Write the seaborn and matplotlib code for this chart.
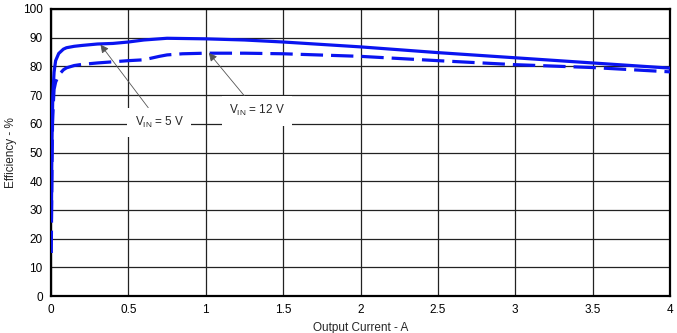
import matplotlib
matplotlib.use("Agg")
import matplotlib.pyplot as plt
import seaborn as sns
import pandas as pd

# Data
i_5v = [0.003, 0.005, 0.008, 0.012, 0.02, 0.03, 0.05, 0.08, 0.1, 0.15, 0.2, 0.3, 0.4, 0.5, 0.6, 0.75, 1.0, 1.25, 1.5, 2.0, 2.5, 3.0, 3.5, 4.0]
eff_5v = [27, 45, 60, 70, 78, 82, 84.5, 86, 86.5, 87, 87.3, 87.8, 88.0, 88.5, 89.2, 89.8, 89.6, 89.2, 88.5, 86.8, 84.8, 83.0, 81.2, 79.4]
i_12v = [0.002, 0.004, 0.007, 0.01, 0.015, 0.02, 0.03, 0.05, 0.08, 0.1, 0.15, 0.2, 0.3, 0.4, 0.5, 0.6, 0.7, 0.75, 0.85, 1.0, 1.25, 1.5, 2.0, 2.5, 3.0, 3.5, 4.0]
eff_12v = [15, 30, 48, 60, 67, 72, 74.5, 77, 78.8, 79.5, 80.3, 80.7, 81.2, 81.6, 82.0, 82.3, 83.5, 84.0, 84.4, 84.6, 84.6, 84.4, 83.5, 82.0, 80.6, 79.6, 78.1]
labels = ["VIN = 5 V", "VIN = 12 V"]
x_ticks = [0, 0.5, 1, 1.5, 2, 2.5, 3, 3.5, 4]
x_tick_labels = ["0", "0.5", "1", "1.5", "2", "2.5", "3", "3.5", "4"]
y_ticks = list(range(0, 101, 10))

df = pd.concat([
    pd.DataFrame({"I": i_5v, "E": eff_5v, "s": labels[0]}),
    pd.DataFrame({"I": i_12v, "E": eff_12v, "s": labels[1]}),
])

sns.set_style("white")
plt.rcParams["font.family"] = ["Liberation Sans", "DejaVu Sans"]

fig = plt.figure(figsize=(6.77, 3.33), dpi=100)
ax = fig.add_axes([0.0753, 0.111, 0.9144, 0.862])

sns.lineplot(data=df, x="I", y="E", hue="s", style="s",
             palette=["#0a14f0", "#0a14f0"],
             dashes=[(None, None), (7, 2.5)], linewidth=2.3,
             sort=False, legend=False, ax=ax, zorder=3)
ax.lines[0].set_linestyle("-")

ax.set_xlim(0, 4)
ax.set_ylim(0, 100)
ax.set_xticks(x_ticks)
ax.set_xticklabels(x_tick_labels)
ax.set_yticks(y_ticks)
ax.grid(True, color="#222222", linewidth=0.9)
ax.set_axisbelow(True)
for sp in ax.spines.values():
    sp.set_color("black")
    sp.set_linewidth(1.6)
ax.tick_params(length=0, labelsize=8.5, pad=6, colors="black")
ax.set_xlabel("Output Current - A", fontsize=8.5, labelpad=4)
ax.set_ylabel("Efficiency - %", fontsize=8.5, labelpad=4)
ax.yaxis.set_label_coords(-0.055, 0.5)

bbox = dict(boxstyle="square,pad=0.6", fc="white", ec="none")
arrow = dict(arrowstyle="-|>", color="#555555", lw=0.6, mutation_scale=12,
             shrinkA=0, shrinkB=0)
ax.annotate(r"V$_{\mathregular{IN}}$ = 5 V", xy=(0.32, 87.6), xytext=(0.70, 60.5),
            fontsize=8.5, ha="center", va="center", bbox=bbox, arrowprops=arrow, zorder=5)
ax.annotate(r"V$_{\mathregular{IN}}$ = 12 V", xy=(1.02, 84.7), xytext=(1.33, 64.5),
            fontsize=8.5, ha="center", va="center", bbox=bbox, arrowprops=arrow, zorder=5)

fig.savefig("out.png", dpi=100)
